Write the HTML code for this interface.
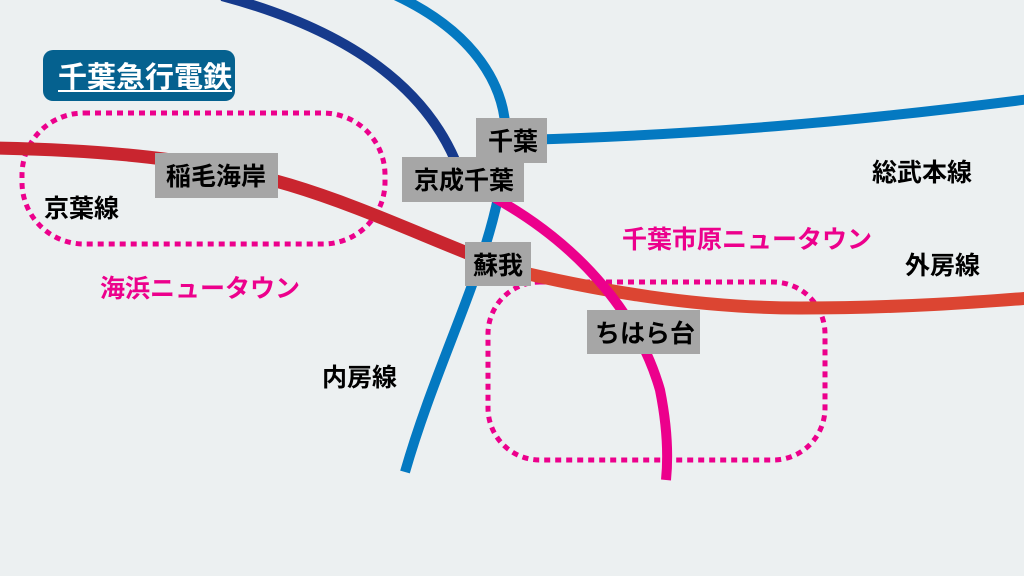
<!DOCTYPE html>
<html><head><meta charset="utf-8"><style>
html,body{margin:0;padding:0;background:#ecf0f1;}
svg{display:block;}
text{font-family:"Liberation Sans","Noto Sans CJK JP",sans-serif;font-weight:bold;}
</style></head><body>
<svg width="1024" height="576" viewBox="0 0 1024 576" xmlns="http://www.w3.org/2000/svg">
<rect width="1024" height="576" fill="#ecf0f1"/>
<rect x="22" y="113" width="363" height="131" rx="62" fill="none" stroke="#ec008c" stroke-width="5" stroke-dasharray="6 5"/>
<rect x="488" y="282" width="337" height="178" rx="52" fill="none" stroke="#ec008c" stroke-width="5" stroke-dasharray="6 5"/>
<path d="M222,-4 Q405,45 455,160" fill="none" stroke="#163a8c" stroke-width="10"/>
<path d="M395,-5 C470,30 512,85 505,150 C498,250 440,350 405,472" fill="none" stroke="#0479c1" stroke-width="10"/>
<path d="M520,140 C700,135 850,122 1030,99" fill="none" stroke="#0479c1" stroke-width="10"/>
<path d="M-5,148 C100,150 200,158 290,185 C360,206 420,235 500,266" fill="none" stroke="#c9252f" stroke-width="13"/>
<path d="M495,266 C600,292 700,308 800,308 C900,308 980,302 1030,298" fill="none" stroke="#dc4532" stroke-width="13"/>
<path d="M495,198 C585,248 640,320 660,390 C668,430 668,460 666,480" fill="none" stroke="#ec008c" stroke-width="10"/>
<rect x="43" y="50" width="192" height="51" rx="10" fill="#05618f"/>
<text x="145" y="87" font-size="29" fill="#fff" text-anchor="middle">千葉急行電鉄</text>
<line x1="58" y1="91" x2="232" y2="91" stroke="#fff" stroke-width="2"/>
<rect x="476" y="118" width="71" height="45" fill="#a6a6a6"/>
<text x="513" y="150" font-size="25" text-anchor="middle">千葉</text>
<rect x="402" y="157" width="122" height="45" fill="#a6a6a6"/>
<text x="464" y="189" font-size="25" text-anchor="middle">京成千葉</text>
<rect x="155" y="153" width="123" height="45" fill="#a6a6a6"/>
<text x="216" y="185" font-size="25" text-anchor="middle">稲毛海岸</text>
<rect x="465" y="242" width="66" height="44" fill="#a6a6a6"/>
<text x="498" y="274" font-size="25" text-anchor="middle">蘇我</text>
<rect x="587" y="310" width="113" height="44" fill="#a6a6a6"/>
<text x="645" y="342" font-size="25" text-anchor="middle">ちはら台</text>
<text x="44" y="217" font-size="25">京葉線</text>
<text x="100" y="297" font-size="25" fill="#ec008c">海浜ニュータウン</text>
<text x="872" y="181" font-size="25">総武本線</text>
<text x="622" y="248" font-size="25" fill="#ec008c">千葉市原ニュータウン</text>
<text x="905" y="274" font-size="25">外房線</text>
<text x="322" y="386" font-size="25">内房線</text>
</svg>
</body></html>
